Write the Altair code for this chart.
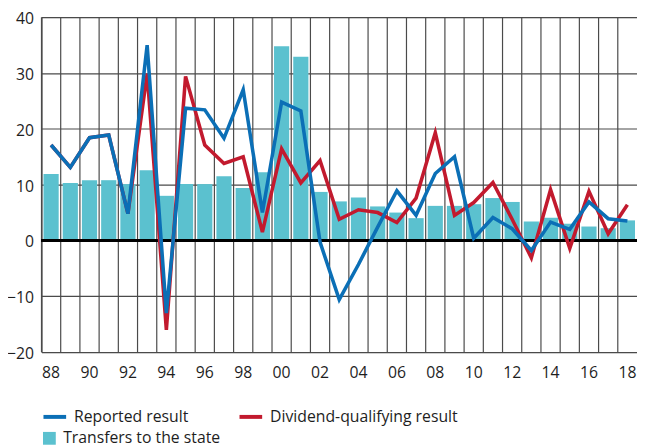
import altair as alt
import pandas as pd

years = ["88", "89", "90", "91", "92", "93", "94", "95", "96", "97", "98", "99",
         "00", "01", "02", "03", "04", "05", "06", "07", "08", "09", "10", "11",
         "12", "13", "14", "15", "16", "17", "18"]
tick_labels = years[::2]

transfers = [11.9, 10.3, 10.8, 10.8, 10.1, 12.6, 8.0, 10.1, 10.1, 11.5, 9.4, 12.2,
             34.8, 32.9, 8.7, 7.0, 7.7, 6.1, 5.0, 4.0, 6.2, 6.2, 6.5, 7.6,
             6.9, 3.4, 4.05, 3.0, 2.5, 2.2, 3.6]
reported = [17.1, 13.1, 18.4, 18.9, 4.8, 35.0, -13.0, 23.7, 23.4, 18.3, 27.0, 5.0,
            24.8, 23.2, -0.3, -10.6, -4.3, 2.4, 8.9, 4.5, 12.0, 15.0, 0.4, 4.1,
            2.1, -1.8, 3.3, 2.0, 6.9, 3.9, 3.5]
dividend = [17.1, 13.1, 18.4, 18.9, 4.8, 29.9, -16.0, 29.4, 17.1, 13.8, 15.0, 1.5,
            16.4, 10.3, 14.3, 3.8, 5.5, 5.0, 3.2, 7.6, 19.3, 4.5, 6.8, 10.4,
            3.8, -3.1, 9.1, -1.4, 8.8, 1.2, 6.4]

line_names = ["Reported result", "Dividend-qualifying result"]
line_colors = ["#0b6fb6", "#c21a2e"]
bar_name = "Transfers to the state"
bar_color = "#5bc1cf"
y_ticks = [-20, -10, 0, 10, 20, 30, 40]

FONT = "Open Sans"
TXT = "#1e1e1e"
GRID = "#4a4a4a"

bars_df = pd.DataFrame({"year": years, "value": transfers, "series": bar_name})
lines_df = pd.concat([
    pd.DataFrame({"year": years, "value": dividend, "series": line_names[1]}),
    pd.DataFrame({"year": years, "value": reported, "series": line_names[0]}),
])
grid_df = pd.DataFrame({"year": years})

x_scale = alt.Scale(domain=years, paddingInner=0, paddingOuter=0)
y_scale = alt.Scale(domain=[-20, 40], nice=False, zero=False)

x_axis = alt.Axis(values=tick_labels, title=None, grid=False, ticks=False, tickSize=0,
                  domain=False, labelAngle=0, labelFontSize=16, labelFont=FONT,
                  labelColor=TXT, labelPadding=13)
y_axis = alt.Axis(values=y_ticks, title=None, grid=True, gridColor=GRID, gridWidth=1.2,
                  gridOpacity=1, ticks=False, tickSize=0, domain=True, domainColor=GRID,
                  domainWidth=1.2, labelFontSize=16, labelFont=FONT, labelColor=TXT,
                  labelPadding=8, labelOffset=1.5)

stroke_enc = alt.Stroke(
    "series:N",
    scale=alt.Scale(domain=line_names, range=line_colors),
    legend=alt.Legend(orient="none", legendX=0, legendY=392, direction="horizontal",
                      title=None, symbolType="stroke", symbolSize=529,
                      symbolStrokeWidth=4, labelFontSize=16, labelFont=FONT,
                      labelColor=TXT, labelOffset=6, columnPadding=43, padding=0,
                      labelLimit=400),
)

vgrid = alt.Chart(grid_df).mark_rule(color=GRID, strokeWidth=1.2).encode(
    x=alt.X("year:N", scale=x_scale, axis=x_axis, bandPosition=0),
    y=alt.datum(40, scale=y_scale, axis=y_axis),
    y2=alt.datum(-20),
)

bars = alt.Chart(bars_df).mark_bar(width=alt.RelativeBandSize(0.79)).encode(
    x=alt.X("year:N", scale=x_scale, axis=x_axis),
    y=alt.Y("value:Q", scale=y_scale, axis=y_axis),
    fill=alt.Fill(
        "series:N",
        scale=alt.Scale(domain=[bar_name], range=[bar_color]),
        legend=alt.Legend(orient="none", legendX=0, legendY=419.5, title=None,
                          symbolType="square", symbolSize=169, symbolStrokeWidth=0,
                          labelFontSize=16, labelFont=FONT, labelColor=TXT,
                          labelOffset=6, padding=0, labelLimit=400),
    ),
)

zero = alt.Chart(grid_df).mark_rule(color="#000000", strokeWidth=2.5).encode(
    y=alt.datum(0),
)

red_line = alt.Chart(lines_df).transform_filter(
    alt.datum.series == line_names[1]
).mark_line(strokeWidth=3.6).encode(
    x=alt.X("year:N", scale=x_scale, axis=x_axis),
    y=alt.Y("value:Q", scale=y_scale, axis=y_axis),
    stroke=stroke_enc,
)

blue_line = alt.Chart(lines_df).transform_filter(
    alt.datum.series == line_names[0]
).mark_line(strokeWidth=3.6).encode(
    x=alt.X("year:N", scale=x_scale, axis=x_axis),
    y=alt.Y("value:Q", scale=y_scale, axis=y_axis),
    stroke=stroke_enc,
)

chart = alt.layer(vgrid, bars, zero, red_line, blue_line).properties(
    width=604.5,
    height=340,
    autosize=alt.AutoSizeParams(type="none"),
    padding={"left": 34, "top": 6, "right": 0, "bottom": 94},
    title=alt.TitleParams("SEK billion, 2017 prices", anchor="start", fontSize=19,
                          font=FONT, color=TXT, fontWeight="normal",
                          baseline="alphabetic", offset=3),
).configure_view(stroke=None).configure(background="white")

chart.save("out.html", embed_options={"renderer": "svg", "actions": False})
